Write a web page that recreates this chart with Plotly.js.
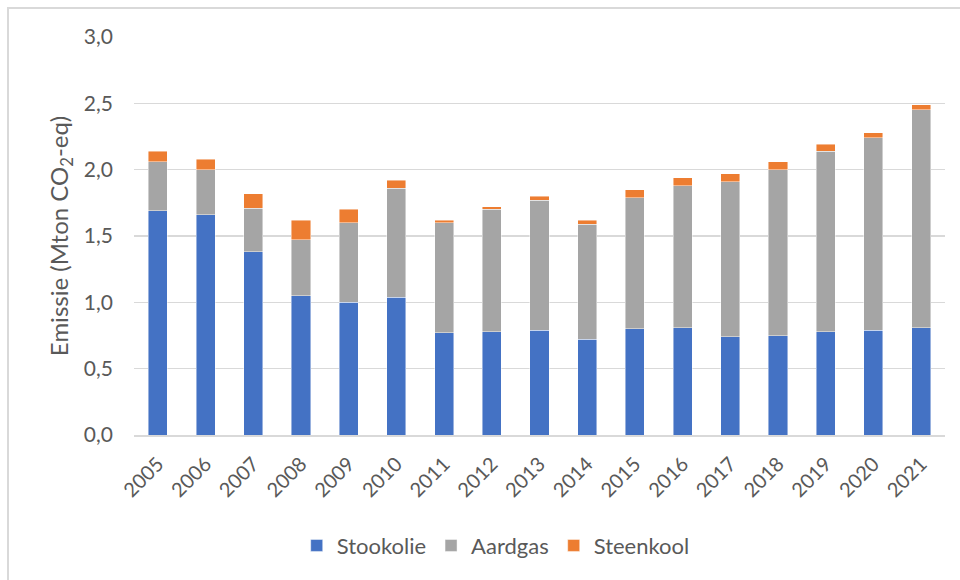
<!DOCTYPE html>
<html>
<head>
<meta charset="utf-8">
<script src="https://cdn.plot.ly/plotly-3.0.1.min.js"></script>
<style>
  html, body { margin: 0; padding: 0; overflow: hidden; background: #fff; }
  #chart { width: 960px; height: 580px; }
  #frame {
    position: absolute; left: 7px; top: 7px; width: 1000px; height: 1000px;
    border: 2px solid #d9d9d9; pointer-events: none;
  }
</style>
</head>
<body>
<div id="chart"></div>
<div id="frame"></div>
<script>
// Emissions per fuel, Mton CO2-eq
const years = ["2005", "2006", "2007", "2008", "2009", "2010", "2011", "2012", "2013",
               "2014", "2015", "2016", "2017", "2018", "2019", "2020", "2021"];
const stookolie = [1.69, 1.66, 1.38, 1.05, 1.00, 1.04, 0.77, 0.78, 0.79,
                   0.72, 0.80, 0.81, 0.74, 0.75, 0.78, 0.79, 0.81];
const aardgas = [0.37, 0.34, 0.33, 0.42, 0.60, 0.82, 0.83, 0.92, 0.98,
                 0.87, 0.99, 1.07, 1.17, 1.25, 1.36, 1.45, 1.64];
const steenkool = [0.08, 0.08, 0.11, 0.15, 0.10, 0.06, 0.02, 0.02, 0.03,
                   0.03, 0.06, 0.06, 0.06, 0.06, 0.05, 0.04, 0.04];

const textColor = "#595959";
const gridColor = "#d9d9d9";

function series(name, values, color) {
  return {
    type: "bar",
    name: name,
    x: years,
    y: values,
    marker: { color: color, line: { color: "rgba(255,255,255,0.6)", width: 0.75 } },
    hoverinfo: "x+y+name",
  };
}

const traces = [
  series("Stookolie", stookolie, "#4472C4"),
  series("Aardgas", aardgas, "#A5A5A5"),
  series("Steenkool", steenkool, "#ED7D31"),
];

const layout = {
  width: 960,
  height: 580,
  barmode: "stack",
  bargap: 0.6,
  separators: ",.",
  paper_bgcolor: "rgba(0,0,0,0)",
  plot_bgcolor: "#fff",
  font: { family: "Lato, 'Open Sans', sans-serif", size: 21, color: textColor },
  margin: { l: 134, r: 15, t: 37, b: 145 },
  xaxis: {
    type: "category",
    automargin: false,
    tickangle: -45,
    showgrid: false,
    showline: true,
    linecolor: gridColor,
    linewidth: 1.5,
    ticks: "",
    ticklabelstandoff: 8,
    tickfont: { size: 20, color: textColor },
  },
  yaxis: {
    automargin: false,
    range: [0, 3],
    dtick: 0.5,
    tickformat: ".1f",
    gridcolor: gridColor,
    gridwidth: 1.5,
    zeroline: false,
    showline: false,
    ticks: "",
    ticklabelstandoff: 20,
    tickfont: { size: 21, color: textColor },
    title: { text: "Emissie (Mton CO<sub>2</sub>-eq)", font: { size: 24, color: textColor }, standoff: 8 },
  },
  legend: {
    orientation: "h",
    traceorder: "normal",
    x: 0.446,
    xanchor: "center",
    y: -0.278,
    yanchor: "middle",
    font: { size: 22, color: textColor },
    itemclick: false,
  },
  showlegend: true,
};

Plotly.newPlot("chart", traces, layout, { displayModeBar: false, staticPlot: true });
</script>
</body>
</html>
